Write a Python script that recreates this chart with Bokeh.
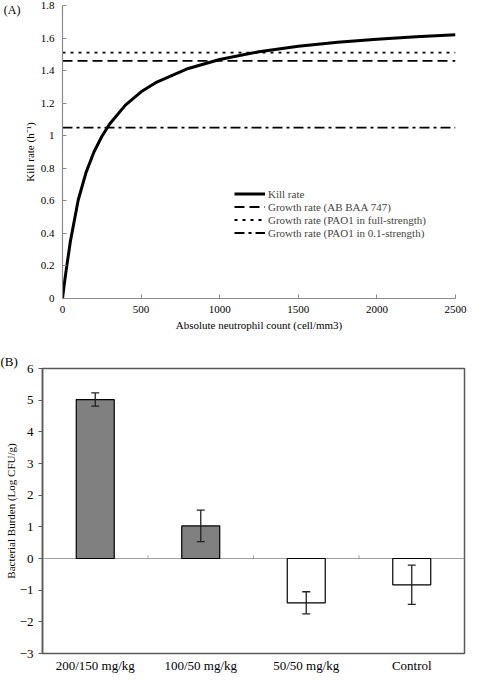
from bokeh.plotting import figure
from bokeh.models import (Range1d, FixedTicker, Legend, LegendItem, Span, Title,
                          Whisker, ColumnDataSource, FactorRange, TeeHead, LinearAxis)
from bokeh.layouts import column, row
from bokeh.embed import file_html
from bokeh.resources import INLINE

FONT = "Liberation Serif"

# ---------------- Panel A data ----------------
anc = [0, 5, 10, 25, 50, 100, 150, 200, 250, 300, 400, 500, 600, 800,
       1000, 1250, 1500, 1750, 2000, 2250, 2500]
kill_rate = [0, 0.040, 0.080, 0.185, 0.350, 0.605, 0.775, 0.900, 0.995, 1.072,
             1.188, 1.270, 1.330, 1.413, 1.468, 1.516, 1.549, 1.574, 1.593,
             1.608, 1.620]
kill_label = "Kill rate"
growth_labels = ["Growth rate (AB BAA 747)",
                 "Growth rate (PAO1 in full-strength)",
                 "Growth rate (PAO1 in 0.1-strength)"]
growth_rates = [1.46, 1.51, 1.05]
x_ticks_a = [0, 500, 1000, 1500, 2000, 2500]
y_ticks_a = [0, 0.2, 0.4, 0.6, 0.8, 1, 1.2, 1.4, 1.6, 1.8]
y_tick_labels_a = ["0", "0.2", "0.4", "0.6", "0.8", "1", "1.2", "1.4", "1.6", "1.8"]
panel_a_tag = "(A)"

# ---------------- Panel B data ----------------
groups = ["200/150 mg/kg", "100/50 mg/kg", "50/50 mg/kg", "Control"]
burden = [5.02, 1.03, -1.40, -0.83]
burden_err = [0.21, 0.50, 0.35, 0.62]
y_ticks_b = [-3, -2, -1, 0, 1, 2, 3, 4, 5, 6]
panel_b_tag = "(B)"

# styles
bar_fill = ["#808080", "#808080", "#ffffff", "#ffffff"]
growth_dash = ["10 5", "3 5", "10 4 3 4"]
AXIS_A = "#8a8a8a"
AXIS_B = "#5a5a5a"

# ================= Panel A =================
pA = figure(width=470, height=340, x_range=Range1d(0, 2500), y_range=Range1d(0, 1.8),
            output_backend="svg", toolbar_location=None,
            min_border_left=62, min_border_right=15, min_border_top=5, min_border_bottom=42)
pA.outline_line_color = None
pA.xgrid.visible = False
pA.ygrid.visible = False

kr = pA.line(anc, kill_rate, line_color="black", line_width=3)
items = [LegendItem(label=kill_label, renderers=[kr])]
x_ext = [anc[0], anc[-1]]
for lab, rate, dash in zip(growth_labels, growth_rates, growth_dash):
    r = pA.line(x_ext, [rate, rate], line_color="black", line_width=1.8, line_dash=dash)
    items.append(LegendItem(label=lab, renderers=[r]))

legend = Legend(items=items, location=(172, 59), glyph_width=31, glyph_height=13,
                label_height=13, spacing=-1, padding=0, margin=0,
                border_line_color=None, background_fill_alpha=0,
                label_text_font=FONT, label_text_font_size="11px", label_standoff=3)
pA.add_layout(legend)

pA.xaxis.ticker = FixedTicker(ticks=x_ticks_a)
pA.yaxis.ticker = FixedTicker(ticks=y_ticks_a)
pA.yaxis.major_label_overrides = dict(zip(y_ticks_a, y_tick_labels_a))
for ax in (pA.xaxis, pA.yaxis):
    ax.axis_line_color = AXIS_A
    ax.axis_line_width = 1.2
    ax.major_tick_line_color = AXIS_A
    ax.major_tick_in = 4
    ax.major_tick_out = 0
    ax.minor_tick_line_color = None
    ax.minor_tick_in = 0
    ax.minor_tick_out = 0
    ax.major_label_text_font = FONT
    ax.major_label_text_font_size = "11px"
    ax.major_label_text_color = "black"
    ax.axis_label_text_font = FONT
    ax.axis_label_text_font_size = "11px"
    ax.axis_label_text_font_style = "normal"
    ax.axis_label_text_color = "black"
pA.xaxis.axis_label = "Absolute neutrophil count (cell/mm3)"
pA.yaxis.axis_label = "Kill rate (h\u207b\u00b9)"
pA.xaxis.major_label_standoff = 7
pA.xaxis.axis_label_standoff = 3
pA.yaxis.major_label_standoff = 8
pA.yaxis.axis_label_standoff = 2

# panel tag "(A)" as an outer, line-less axis level with the top tick
tag_axis = LinearAxis(ticker=FixedTicker(ticks=[y_ticks_a[-1]]),
                      major_label_overrides={y_ticks_a[-1]: panel_a_tag},
                      axis_line_color=None, major_tick_line_color=None,
                      minor_tick_line_color=None, major_tick_in=0, major_tick_out=0,
                      minor_tick_in=0, minor_tick_out=0, major_label_standoff=0,
                      major_label_text_font=FONT, major_label_text_font_size="12px",
                      major_label_text_color="black")
pA.add_layout(tag_axis, "left")

# ================= Panel B =================
pB = figure(width=470, height=336, x_range=FactorRange(factors=groups),
            y_range=Range1d(-3, 6), output_backend="svg", toolbar_location=None,
            min_border_left=42, min_border_right=6, min_border_top=28, min_border_bottom=23)
pB.xgrid.visible = False
pB.ygrid.visible = False
pB.outline_line_color = AXIS_B
pB.outline_line_width = 1.5

pB.add_layout(Span(location=0, dimension="width", line_color="#a0a0a0",
                   line_width=1, level="underlay"))
bounds = list(range(1, len(groups)))
pB.segment(x0=bounds, y0=[0] * len(bounds), x1=bounds, y1=[0.1] * len(bounds),
           line_color="#a0a0a0", line_width=1)

pB.vbar(x=groups, top=burden, bottom=0, width=0.36, fill_color=bar_fill,
        line_color="black", line_width=1.2)

src = ColumnDataSource(data=dict(
    x=groups,
    upper=[b + e for b, e in zip(burden, burden_err)],
    lower=[b - e for b, e in zip(burden, burden_err)]))
pB.add_layout(Whisker(base="x", upper="upper", lower="lower", source=src, level="overlay",
                      line_color="#222222", line_width=1.3,
                      upper_head=TeeHead(size=8, line_color="#222222", line_width=1.3),
                      lower_head=TeeHead(size=8, line_color="#222222", line_width=1.3)))

pB.yaxis.ticker = FixedTicker(ticks=y_ticks_b)
pB.yaxis.axis_line_color = AXIS_B
pB.yaxis.axis_line_width = 1.5
pB.yaxis.major_tick_line_color = AXIS_B
pB.yaxis.major_tick_in = 0
pB.yaxis.major_tick_out = 4
pB.yaxis.minor_tick_line_color = None
pB.yaxis.minor_tick_in = 0
pB.yaxis.minor_tick_out = 0
pB.yaxis.major_label_standoff = 5
pB.yaxis.axis_label = "Bacterial Burden (Log CFU/g)"
pB.yaxis.axis_label_standoff = 0
pB.xaxis.axis_line_color = None
pB.xaxis.major_tick_line_color = None
pB.xaxis.major_tick_in = 0
pB.xaxis.major_tick_out = 0
pB.xaxis.minor_tick_in = 0
pB.xaxis.minor_tick_out = 0
pB.xaxis.major_label_standoff = 4
for ax in (pB.xaxis, pB.yaxis):
    ax.major_label_text_font = FONT
    ax.major_label_text_font_size = "13px"
    ax.major_label_text_color = "black"
    ax.axis_label_text_font = FONT
    ax.axis_label_text_font_size = "11px"
    ax.axis_label_text_font_style = "normal"
    ax.axis_label_text_color = "black"

pB.add_layout(Title(text=panel_b_tag, align="left", offset=-42, standoff=0,
                    text_font=FONT, text_font_size="13px", text_font_style="normal",
                    text_color="black"), "above")

layout = column(row(pA), row(pB), spacing=0)
open("out.html", "w").write(file_html(layout, INLINE))
